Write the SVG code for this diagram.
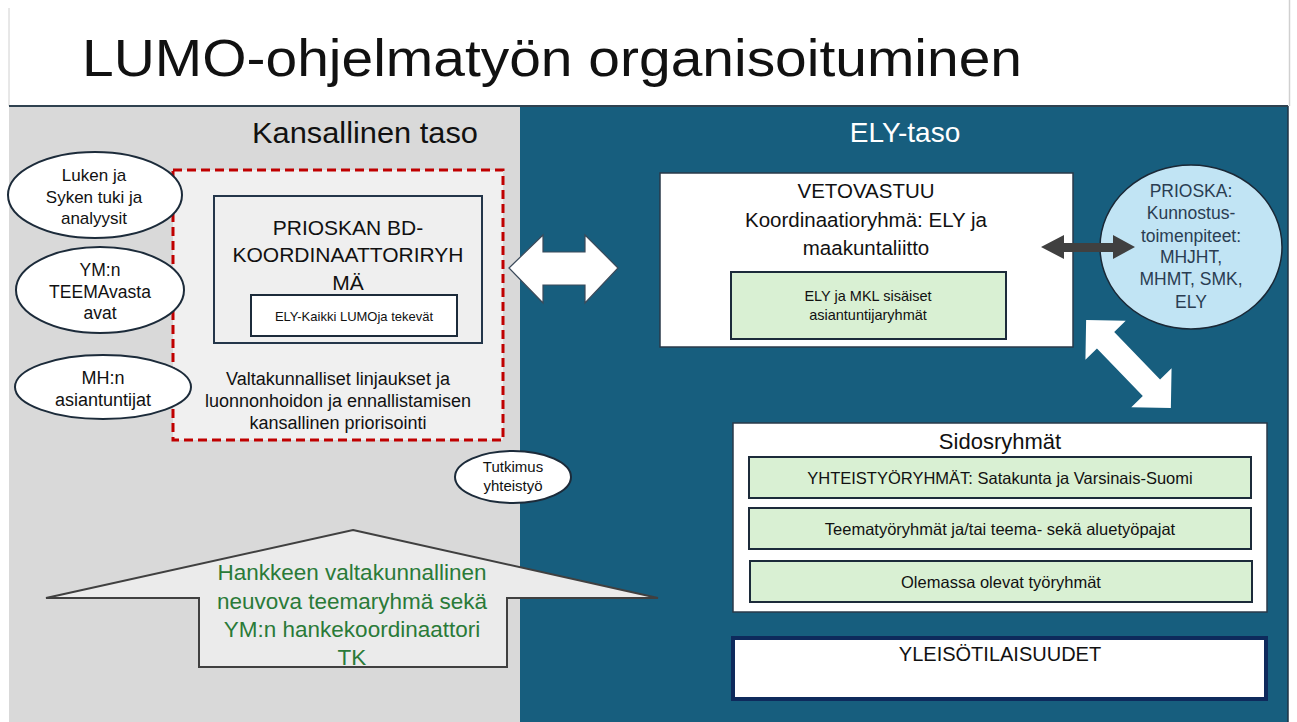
<svg xmlns="http://www.w3.org/2000/svg" width="1297" height="722" viewBox="0 0 1297 722">
<style>
text{font-family:"Liberation Sans",Arial,sans-serif;}
.c{text-anchor:middle;}
.ell{fill:#ffffff;stroke:#1c2b3a;stroke-width:2;}
.green{fill:#d9f0d3;stroke:#1c2b3a;stroke-width:2;}
.wbox{fill:#ffffff;stroke:#2a3a4a;stroke-width:1.5;}
.dark{fill:#111111;}
</style>
<rect x="0" y="0" width="1297" height="722" fill="#ffffff"/>
<line x1="9" y1="8" x2="9" y2="106" stroke="#d0d0d0" stroke-width="1"/>
<line x1="1289.5" y1="0" x2="1289.5" y2="106" stroke="#d0d0d0" stroke-width="1.5"/>
<text x="82" y="76" font-size="52" class="dark" textLength="940" lengthAdjust="spacingAndGlyphs">LUMO-ohjelmatyön organisoituminen</text>

<g id="panel-kansallinen">
<rect x="9" y="106" width="511" height="616" fill="#d9d9d9"/>
<text x="252" y="143" font-size="29" class="dark" textLength="226" lengthAdjust="spacingAndGlyphs">Kansallinen taso</text>
</g>
<g id="panel-ely">
<rect x="520" y="106" width="768" height="616" fill="#175e7e"/>
<line x1="1288" y1="106" x2="1288" y2="722" stroke="#1e3344" stroke-width="1.5"/>
<text x="905" y="142" font-size="28" class="c" fill="#ffffff">ELY-taso</text>
</g>
<line x1="9" y1="106" x2="1288" y2="106" stroke="#2f4250" stroke-width="2"/>

<g id="kansallinen-priorisointi">
<rect x="173" y="170" width="330" height="270" fill="#f0f0f0" stroke="#c00000" stroke-width="3" stroke-dasharray="9,5"/>
<text class="c dark" font-size="18" x="338" y="385">Valtakunnalliset linjaukset ja</text>
<text class="c dark" font-size="18" x="338" y="407">luonnonhoidon ja ennallistamisen</text>
<text class="c dark" font-size="18" x="338" y="429">kansallinen priorisointi</text>
</g>
<g id="bd-koordinaattoriryhma">
<rect x="214" y="196" width="268" height="147" fill="#efefef" stroke="#24364a" stroke-width="2"/>
<text class="c dark" font-size="21" x="348" y="235">PRIOSKAN BD-</text>
<text class="c dark" font-size="21" x="348" y="262">KOORDINAATTORIRYH</text>
<text class="c dark" font-size="21" x="348" y="290">MÄ</text>
</g>
<g id="ely-kaikki">
<rect x="251" y="295" width="206" height="41" fill="#ffffff" stroke="#1c2b3a" stroke-width="2"/>
<text class="c dark" font-size="13" x="354" y="321">ELY-Kaikki LUMOja tekevät</text>
</g>

<g id="luke-syke">
<ellipse class="ell" cx="95" cy="195" rx="87" ry="43"/>
<text class="c dark" font-size="17" x="94" y="181">Luken ja</text>
<text class="c dark" font-size="17" x="94" y="203">Syken tuki ja</text>
<text class="c dark" font-size="17" x="94" y="224">analyysit</text>
</g>
<g id="ym-teemavastaavat">
<ellipse class="ell" cx="100" cy="290" rx="84" ry="43"/>
<text class="c dark" font-size="17.5" x="100" y="276">YM:n</text>
<text class="c dark" font-size="17.5" x="100" y="298">TEEMAvasta</text>
<text class="c dark" font-size="17.5" x="100" y="319">avat</text>
</g>
<g id="mh-asiantuntijat">
<ellipse class="ell" cx="103" cy="387" rx="88" ry="32"/>
<text class="c dark" font-size="18" x="103" y="384">MH:n</text>
<text class="c dark" font-size="18" x="103" y="406">asiantuntijat</text>
</g>
<g id="tutkimusyhteistyo">
<ellipse class="ell" cx="513" cy="477" rx="58" ry="26"/>
<text class="c dark" font-size="15" x="513" y="472">Tutkimus</text>
<text class="c dark" font-size="15" x="513" y="491">yhteistyö</text>
</g>

<g id="neuvova-teemaryhma">
<polygon points="353,530 658,598 507,598 507,667 199,667 199,598 46,598" fill="#ebebeb" stroke="#404040" stroke-width="2" stroke-linejoin="miter"/>
<text class="c" font-size="22.5" fill="#2a7a38" x="352" y="580">Hankkeen valtakunnallinen</text>
<text class="c" font-size="22.5" fill="#2a7a38" x="352" y="609">neuvova teemaryhmä sekä</text>
<text class="c" font-size="22.5" fill="#2a7a38" x="352" y="637">YM:n hankekoordinaattori</text>
<text class="c" font-size="22.5" fill="#2a7a38" x="352" y="665">TK</text>
</g>

<g id="vetovastuu">
<rect class="wbox" x="660" y="173" width="413" height="174"/>
<text class="c dark" font-size="20.5" x="866" y="198">VETOVASTUU</text>
<text class="c dark" font-size="20.5" x="866" y="227">Koordinaatioryhmä: ELY ja</text>
<text class="c dark" font-size="20.5" x="866" y="255">maakuntaliitto</text>
</g>
<g id="sisaiset-asiantuntijaryhmat">
<rect class="green" x="731" y="272" width="275" height="67"/>
<text class="c dark" font-size="14.5" x="868" y="301">ELY ja MKL sisäiset</text>
<text class="c dark" font-size="14.5" x="868" y="320">asiantuntijaryhmät</text>
</g>

<g id="prioska-kunnostus">
<ellipse cx="1191" cy="247" rx="91" ry="82" fill="#c1e4f4" stroke="#1a2836" stroke-width="1.5"/>
<g fill="#2a3d52" font-size="17.5">
<text class="c" x="1191" y="197">PRIOSKA:</text>
<text class="c" x="1191" y="219">Kunnostus-</text>
<text class="c" x="1191" y="242">toimenpiteet:</text>
<text class="c" x="1191" y="263">MHJHT,</text>
<text class="c" x="1191" y="285">MHMT, SMK,</text>
<text class="c" x="1191" y="308">ELY</text>
</g>
</g>

<g id="sidosryhmat">
<rect class="wbox" x="733" y="423" width="534" height="189"/>
<text class="c dark" font-size="22" x="1000" y="449">Sidosryhmät</text>
</g>
<g id="yhteistyoryhmat">
<rect class="green" x="749" y="457" width="502" height="41"/>
<text class="c dark" font-size="16.5" x="1000" y="484">YHTEISTYÖRYHMÄT: Satakunta ja Varsinais-Suomi</text>
</g>
<g id="teematyoryhmat">
<rect class="green" x="749" y="508" width="502" height="41"/>
<text class="c dark" font-size="16.5" x="1000" y="535">Teematyöryhmät ja/tai teema- sekä aluetyöpajat</text>
</g>
<g id="olemassa-olevat">
<rect class="green" x="750" y="561" width="502" height="41"/>
<text class="c dark" font-size="16.5" x="1001" y="588">Olemassa olevat työryhmät</text>
</g>
<g id="yleisotilaisuudet">
<rect x="733" y="638" width="533" height="61" fill="#ffffff" stroke="#0e2a5c" stroke-width="4"/>
<text class="c dark" font-size="20" x="1000" y="661">YLEISÖTILAISUUDET</text>
</g>

<g id="connectors">
<polygon points="509,268 543,235 543,252 585,252 585,235 618,268 585,303 585,285 543,285 543,303" fill="#ffffff" stroke="#3b4a5a" stroke-width="1.2"/>
<polygon points="1041,247 1064,235 1064,243 1113,243 1113,235 1135,247 1113,259 1113,252 1064,252 1064,259" fill="#404040"/>
<polygon transform="translate(1128.5,364) rotate(46)" points="-61,0 -33,-28 -33,-12 33,-12 33,-28 61,0 33,28 33,12 -33,12 -33,28" fill="#ffffff"/>
</g>
</svg>
